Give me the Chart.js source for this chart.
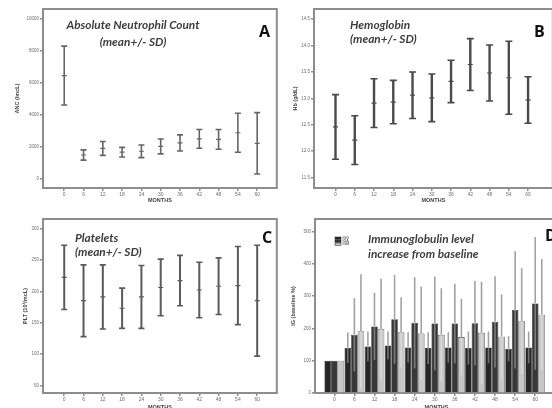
<!DOCTYPE html>
<html>
<head>
<meta charset="utf-8">
<script src="https://cdn.jsdelivr.net/npm/chart.js@4.4.1/dist/chart.umd.min.js"></script>
<style>
  html, body { margin: 0; padding: 0; background: #fff; overflow: hidden; }
  #wrap { position: relative; width: 552px; height: 408px; }
  canvas { position: absolute; }
  .ttl { position: absolute; font-family: Lato, "Open Sans", sans-serif; font-style: italic; font-weight: 700;
         font-size: 11.8px; line-height: 1; color: #3e3e3e; white-space: nowrap; }
  .ctr { transform: translateX(-50%); }
  .tag { position: absolute; font-family: "Open Sans", sans-serif; font-weight: 700; font-size: 16px;
         line-height: 1; color: #111; }
</style>
</head>
<body>
<div id="wrap">
  <canvas id="chartA" width="282" height="206" style="left:0;top:0"></canvas>
  <canvas id="chartB" width="282" height="206" style="left:276px;top:0"></canvas>
  <canvas id="chartC" width="282" height="202" style="left:0;top:210px"></canvas>
  <canvas id="chartD" width="282" height="202" style="left:276px;top:210px"></canvas>

  <div class="ttl ctr" style="left:133px;top:19px">Absolute Neutrophil Count</div>
  <div class="ttl ctr" style="left:133px;top:36px">(mean+/- SD)</div>
  <div class="tag" style="left:259px;top:23px">A</div>

  <div class="ttl" style="left:350px;top:19px">Hemoglobin</div>
  <div class="ttl" style="left:350px;top:33px">(mean+/- SD)</div>
  <div class="tag" style="left:534px;top:23px">B</div>

  <div class="ttl" style="left:75px;top:232px">Platelets</div>
  <div class="ttl" style="left:75px;top:246px">(mean+/- SD)</div>
  <div class="tag" style="left:262px;top:229px">C</div>

  <div class="ttl" style="left:368px;top:233px">Immunoglobulin level</div>
  <div class="ttl" style="left:368px;top:248px">increase from baseline</div>
  <div class="tag" style="left:545px;top:227px">D</div>
</div>
<script>
// visit months
const months = [0, 6, 12, 18, 24, 30, 36, 42, 48, 54, 60];

// absolute neutrophil count (/mcL), mean and SD
const ancMean = [6460, 1500, 1910, 1680, 1735, 2035, 2255, 2505, 2475, 2890, 2230];
const ancSd = [1840, 320, 430, 300, 395, 465, 505, 585, 615, 1220, 1920];
const ancTicks = [0, 2000, 4000, 6000, 8000, 10000];

// hemoglobin (g/dL)
const hbMean = [12.46, 12.21, 12.91, 12.93, 13.06, 13.01, 13.32, 13.64, 13.48, 13.39, 12.97];
const hbSd = [0.61, 0.46, 0.46, 0.41, 0.44, 0.45, 0.40, 0.49, 0.53, 0.69, 0.44];
const hbTicks = [11.5, 12.0, 12.5, 13.0, 13.5, 14.0, 14.5];

// platelets (10^3/mcL)
const pltMean = [222, 185, 191, 173, 191, 206, 217, 202, 208, 209, 185];
const pltSd = [51, 57, 51, 32, 50, 45, 40, 44, 45, 62, 88];
const pltTicks = [50, 100, 150, 200, 250, 300];

// immunoglobulins, % of baseline
const igLabels = ['IGG', 'IGA', 'IGM'];
const iggMean = [100, 140, 144, 147, 141, 139, 141, 139, 141, 137, 141];
const iggSd = [0, 47, 46, 43, 47, 49, 47, 51, 49, 39, 49];
const igaMean = [100, 180, 206, 228, 217, 215, 215, 216, 220, 257, 277];
const igaSd = [0, 113, 104, 137, 141, 145, 123, 130, 141, 181, 205];
const igmMean = [100, 191, 198, 188, 184, 180, 173, 186, 174, 222, 242];
const igmSd = [0, 176, 155, 108, 145, 144, 118, 158, 131, 164, 172];
const igTicks = [0, 100, 200, 300, 400, 500];

const axisGray = '#8d8d8d';
const tickGray = '#6d6d6d';

// box around the plot area
const frame = {
  id: 'frame',
  beforeDatasetsDraw(chart) {
    const { ctx, chartArea: a } = chart;
    ctx.save();
    ctx.strokeStyle = axisGray;
    ctx.lineWidth = 2;
    ctx.strokeRect(a.left, a.top, a.right - a.left, a.bottom - a.top);
    ctx.restore();
  }
};

// vertical mean +/- SD lines for every point or bar
const errorBars = {
  id: 'errorBars',
  afterDatasetsDraw(chart) {
    const { ctx } = chart;
    const ys = chart.scales.y;
    chart.data.datasets.forEach((ds, i) => {
      if (!ds.sd) return;
      chart.getDatasetMeta(i).data.forEach((el, j) => {
        const m = ds.data[j].y;
        const s = ds.sd[j];
        if (!s) return;
        const yTop = ys.getPixelForValue(m + s);
        const yMid = ys.getPixelForValue(m);
        const yBot = ys.getPixelForValue(Math.max(m - s, ys.min));
        ctx.save();
        ctx.lineWidth = ds.errWidth;
        ctx.strokeStyle = ds.errColor;
        ctx.beginPath();
        ctx.moveTo(el.x, yTop);
        ctx.lineTo(el.x, yMid);
        ctx.stroke();
        ctx.strokeStyle = ds.errLowColor || ds.errColor;
        ctx.beginPath();
        ctx.moveTo(el.x, yMid);
        ctx.lineTo(el.x, yBot);
        ctx.stroke();
        if (ds.capWidth) {
          ctx.strokeStyle = ds.errColor;
          ctx.lineWidth = 1.6;
          const h = ds.capWidth / 2;
          ctx.beginPath();
          ctx.moveTo(el.x - h, yTop); ctx.lineTo(el.x + h, yTop);
          ctx.moveTo(el.x - h, yBot); ctx.lineTo(el.x + h, yBot);
          ctx.stroke();
        }
        ctx.restore();
      });
    });
  }
};

// tiny legend box in the top-left corner of the plot
const miniLegend = {
  id: 'miniLegend',
  afterDraw(chart, args, opts) {
    if (!opts.show) return;
    const { ctx, chartArea: a } = chart;
    const x = a.left + opts.left;
    let y = a.top + opts.top;
    ctx.save();
    chart.data.datasets.forEach(ds => {
      ctx.fillStyle = ds.backgroundColor;
      ctx.fillRect(x, y, 6, 2.4);
      ctx.strokeStyle = '#222';
      ctx.lineWidth = 0.5;
      ctx.strokeRect(x, y, 6, 2.4);
      ctx.fillStyle = '#666';
      ctx.font = 'bold 3.5px "Liberation Sans", sans-serif';
      ctx.textBaseline = 'middle';
      ctx.fillText(ds.label, x + 7.5, y + 1.3);
      y += 3;
    });
    ctx.restore();
  }
};

function scalesFor(o) {
  return {
    x: {
      type: 'linear',
      min: o.xMin,
      max: o.xMax,
      offset: false,
      afterFit: s => { s.height = o.xHeight; },
      afterBuildTicks: s => { s.ticks = months.map(v => ({ value: v })); },
      grid: { display: true, drawOnChartArea: false, offset: false, tickLength: 3, color: axisGray, lineWidth: 1.5 },
      border: { display: false },
      ticks: { color: tickGray, font: { size: 5, family: 'Liberation Sans' }, padding: 1, maxRotation: 0,
               callback: v => String(v) },
      title: { display: true, text: 'MONTHS', color: '#444', font: { size: 5.5, weight: 'bold', family: 'Liberation Sans' },
               padding: { top: 0, bottom: o.titleBottom } }
    },
    y: {
      type: 'linear',
      min: o.yMin,
      max: o.yMax,
      afterFit: s => { s.width = o.yWidth; },
      afterBuildTicks: s => { s.ticks = o.yTicks.map(v => ({ value: v })); },
      grid: { display: true, drawOnChartArea: false, tickLength: 3, color: axisGray, lineWidth: 1.5 },
      border: { display: false },
      ticks: { color: tickGray, font: { size: 4.5, family: 'Liberation Sans' }, padding: 1,
               callback: o.fmt || (v => String(v)) },
      title: { display: true, text: o.yTitle, color: '#444', font: { size: 5.5, weight: 'bold', family: 'Liberation Sans' },
               padding: { top: o.yTitlePad, bottom: 0 } }
    }
  };
}

function errorChart(id, mean, sd, look, sc) {
  return new Chart(document.getElementById(id), {
    type: 'scatter',
    data: {
      datasets: [{
        data: months.map((m, i) => ({ x: m, y: mean[i] })),
        sd: sd,
        errColor: look.color,
        errWidth: look.width,
        capWidth: look.cap,
        pointStyle: 'line',
        pointRadius: 2.5,
        borderWidth: 1.2,
        borderColor: look.color,
        backgroundColor: look.color
      }]
    },
    options: {
      responsive: false,
      animation: false,
      events: [],
      layout: { padding: sc.pad },
      plugins: { legend: { display: false }, tooltip: { enabled: false } },
      scales: scalesFor(sc)
    },
    plugins: [frame, errorBars]
  });
}

errorChart('chartA', ancMean, ancSd, { color: '#666', width: 1.6, cap: 6 }, {
  pad: { top: 9, right: 4, left: 0, bottom: 0 },
  xMin: -6.6, xMax: 66.1, xHeight: 18, titleBottom: 2,
  yMin: -560, yMax: 10620, yWidth: 43, yTicks: ancTicks, yTitle: 'ANC (/mcL)', yTitlePad: 14
});

errorChart('chartB', hbMean, hbSd, { color: '#4a4a4a', width: 2.4, cap: 7 }, {
  pad: { top: 9, right: 0, left: 0, bottom: 0 },
  xMin: -6.7, xMax: 67.7, xHeight: 18, titleBottom: 2,
  yMin: 11.305, yMax: 14.69, yWidth: 38, yTicks: hbTicks, yTitle: 'Hb (g/dL)', yTitlePad: 16,
  fmt: v => v.toFixed(1)
});

errorChart('chartC', pltMean, pltSd, { color: '#5a5a5a', width: 2, cap: 6 }, {
  pad: { top: 9, right: 4, left: 0, bottom: 0 },
  xMin: -6.6, xMax: 66.1, xHeight: 19, titleBottom: 1,
  yMin: 38.4, yMax: 314.8, yWidth: 43, yTicks: pltTicks, yTitle: 'PLT (10³/mcL)', yTitlePad: 22
});

// immunoglobulin bars
const igColors = ['#262626', '#383838', '#c6c6c6'];
const igMeans = [iggMean, igaMean, igmMean];
const igSds = [iggSd, igaSd, igmSd];

new Chart(document.getElementById('chartD'), {
  type: 'bar',
  data: {
    datasets: igLabels.map((lab, k) => ({
      label: lab,
      data: months.map((m, i) => ({ x: m, y: igMeans[k][i] })),
      sd: igSds[k],
      errColor: '#a2a2a2',
      errLowColor: 'rgba(255,255,255,0.35)',
      errWidth: 1.6,
      backgroundColor: igColors[k],
      borderColor: '#1e1e1e',
      borderWidth: 0.6,
      categoryPercentage: 0.98,
      barPercentage: 1
    }))
  },
  options: {
    responsive: false,
    animation: false,
    events: [],
    layout: { padding: { top: 9, right: 0, left: 0, bottom: 0 } },
    plugins: {
      legend: { display: false },
      tooltip: { enabled: false },
      miniLegend: { show: true, left: 20, top: 18 }
    },
    scales: scalesFor({
      xMin: -5.76, xMax: 66.8, xHeight: 19, titleBottom: 1,
      yMin: 0, yMax: 538, yWidth: 39, yTicks: igTicks, yTitle: 'IG (baseline %)', yTitlePad: 14
    })
  },
  plugins: [frame, errorBars, miniLegend]
});
</script>
</body>
</html>
